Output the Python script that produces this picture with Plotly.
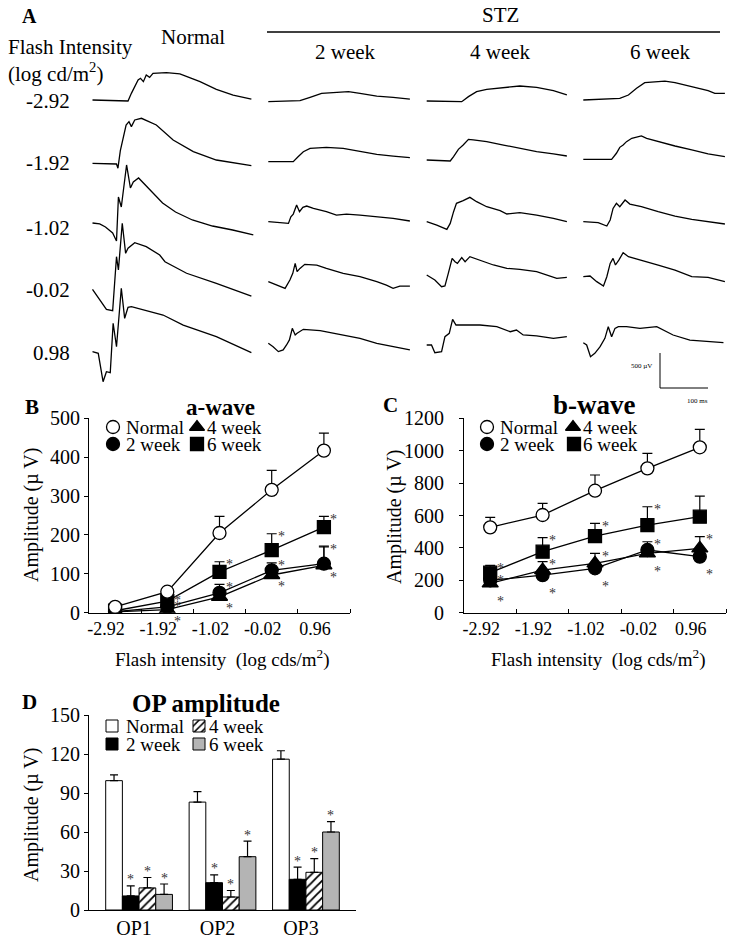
import plotly.graph_objects as go

W, H = 735, 944
FONT = "Liberation Serif"

# ---------------- Panel A: ERG traces (time in ms, amplitude in uV re. baseline) ----------------
INTENSITY_A = ["-2.92", "-1.92", "-1.02", "-0.02", "0.98"]
GROUPS_A = ["Normal", "2 week", "4 week", "6 week"]

NORMAL_MS = [
    [0, 74, 81, 88, 95, 100, 106, 112, 119, 126, 154, 182, 224, 258, 293, 331],
    [0, 50, 53, 58, 70, 76, 81, 88, 102, 133, 168, 210, 258, 331],
    [0, 15, 27, 42, 50, 54, 60, 71, 79, 85, 96, 106, 125, 146, 173, 208, 250, 292, 335],
    [0, 29, 42, 50, 54, 62, 69, 74, 88, 112, 140, 151, 196, 258, 331],
    [0, 12, 22, 29, 37, 43, 50, 60, 67, 74, 81, 105, 147, 189, 258, 331],
]
NORMAL_UV = [
    [0, -14, 95, 190, 286, 310, 262, 357, 324, 381, 390, 372, 262, 153, 71, 14],
    [0, -10, -70, 180, 547, 595, 524, 619, 643, 547, 333, 166, 47, -34],
    [0, -14, -57, -143, -257, 372, 229, 829, 500, 586, 643, 572, 429, 286, 157, 43, -43, -100, -171],
    [0, -286, -306, 466, 276, 943, 514, 586, 666, 609, 490, 394, 229, 86, -96],
    [0, -23, -429, -286, -300, 406, 71, 906, 477, 634, 643, 596, 524, 381, 214, -14],
]
WK2_MS = [
    [0, 66, 87, 111, 135, 167, 191, 226, 260, 295],
    [0, 52, 62, 73, 87, 121, 156, 191, 226, 260, 295],
    [0, 24, 42, 47, 52, 59, 65, 72, 80, 94, 121, 142, 163, 191, 226, 260, 295],
    [0, 17, 35, 45, 51, 56, 60, 66, 76, 101, 121, 156, 191, 226, 246, 260, 274, 295],
    [0, 10, 21, 31, 38, 44, 50, 56, 60, 65, 73, 108, 156, 191, 226, 260, 295],
]
WK2_UV = [
    [0, 14, 62, 119, 129, 143, 119, 81, 62, 38],
    [0, 0, 71, 143, 190, 205, 190, 143, 105, 81, 57],
    [0, -14, -24, 71, 109, 238, 143, 205, 224, 190, 143, 95, 109, 95, 71, 48, 10],
    [0, -48, -95, 24, 119, 262, 143, 190, 248, 238, 190, 119, 71, 0, -48, -95, -62, -62],
    [0, -48, -119, -95, -24, 48, 214, 119, 143, 167, 200, 181, 119, 71, 0, -48, -95],
]
WK4_MS = [
    [0, 73, 87, 104, 125, 160, 194, 229, 264, 292],
    [0, 49, 56, 66, 76, 87, 97, 125, 160, 194, 229, 264, 292],
    [0, 21, 42, 49, 56, 62, 76, 90, 104, 125, 153, 167, 194, 229, 264, 292],
    [0, 17, 31, 38, 45, 53, 59, 64, 73, 80, 90, 111, 139, 167, 194, 229, 250, 271, 292],
    [0, 10, 17, 31, 38, 47, 54, 61, 76, 111, 146, 174, 187, 201, 229, 264, 292],
]
WK4_UV = [
    [0, -10, 62, 133, 167, 195, 214, 195, 148, 86],
    [0, -14, 48, 152, 214, 295, 286, 262, 214, 167, 119, 86, 57],
    [0, -48, -110, -24, 143, 262, 300, 348, 286, 214, 157, 110, 129, 95, 48, 0],
    [0, -71, -167, -157, 24, 238, 190, 167, 248, 190, 262, 214, 143, 95, 81, 48, 0, -48, -33],
    [0, 0, -110, -95, 119, 167, 367, 286, 286, 286, 262, 190, 214, 143, 129, 95, 119],
]
WK6_MS = [
    [0, 76, 94, 111, 128, 149, 170, 191, 226, 260, 274, 295],
    [0, 59, 69, 76, 83, 90, 101, 121, 132, 156, 191, 226, 260, 295],
    [0, 31, 49, 56, 62, 69, 76, 87, 97, 121, 156, 191, 226, 260, 295],
    [0, 14, 28, 42, 49, 56, 62, 67, 74, 83, 94, 121, 156, 191, 226, 260, 295],
    [0, 7, 15, 24, 35, 45, 52, 59, 66, 73, 90, 118, 153, 174, 187, 222, 257, 292],
]
WK6_UV = [
    [0, 24, 71, 167, 248, 262, 271, 248, 190, 133, 95, 95],
    [0, 0, 86, 171, 205, 252, 300, 333, 300, 252, 190, 133, 76, 38],
    [0, -14, -62, 24, 190, 262, 214, 310, 252, 214, 143, 81, 33, 0, -33],
    [0, 10, -71, -133, 0, 190, 262, 167, 238, 343, 286, 238, 167, 95, 0, -10, -71],
    [0, -33, -200, -152, -57, 62, 229, 86, 205, 229, 229, 205, 229, 157, 110, 38, 14, 0],
]
SCALE_UV = 500
SCALE_MS = 100

# ---------------- Panels B, C: a-wave / b-wave amplitude (uV), mean and upper SEM ----------------
INTENSITY_BC = ["-2.92", "-1.92", "-1.02", "-0.02", "0.96"]
AWAVE_NORMAL = [15, 54, 205, 316, 417]
AWAVE_NORMAL_ERR = [5, 8, 43, 50, 45]
AWAVE_2WK = [3, 15, 51, 109, 126]
AWAVE_2WK_ERR = [2, 8, 22, 19, 45]
AWAVE_4WK = [2, 8, 41, 97, 122]
AWAVE_4WK_ERR = [2, 5, 8, 10, 47]
AWAVE_6WK = [5, 30, 105, 161, 220]
AWAVE_6WK_ERR = [3, 10, 26, 42, 28]

BWAVE_NORMAL = [527, 603, 753, 891, 1021]
BWAVE_NORMAL_ERR = [61, 72, 97, 93, 111]
BWAVE_2WK = [200, 232, 274, 387, 346]
BWAVE_2WK_ERR = [20, 25, 25, 51, 30]
BWAVE_4WK = [181, 263, 305, 366, 397]
BWAVE_4WK_ERR = [20, 52, 61, 30, 72]
BWAVE_6WK = [247, 377, 473, 541, 593]
BWAVE_6WK_ERR = [45, 86, 78, 113, 127]

# ---------------- Panel D: OP amplitude (uV) ----------------
OP_LABELS = ["OP1", "OP2", "OP3"]
OP_NORMAL = [99.5, 83, 116]
OP_NORMAL_ERR = [4.5, 8, 6.5]
OP_2WK = [10.8, 21, 23.6]
OP_2WK_ERR = [7.7, 6, 9.4]
OP_4WK = [17, 10, 29]
OP_4WK_ERR = [8, 5, 10.5]
OP_6WK = [12, 41, 60]
OP_6WK_ERR = [8, 12, 8]

# ---------------- layout helpers ----------------
def P(px, py):
    return px / W, 1 - py / H

annotations = []
def text(t, px, py, size=19, bold=False, xanchor="center", yanchor="middle", angle=0, color="black"):
    x, y = P(px, py)
    if bold:
        t = "<b>" + t + "</b>"
    annotations.append(dict(text=t, x=x, y=y, xref="paper", yref="paper", showarrow=False,
                            xanchor=xanchor, yanchor=yanchor, textangle=angle,
                            font=dict(family=FONT, size=size, color=color)))

fig = go.Figure()

# ---- Panel A ----
MS_PER_PX = 100 / 48
UV_PER_PX = 500 / 35
A_BOTTOM = 420
COL_X0 = [92.5, 268.3, 426.7, 583.3]
ROW_Y0 = [[100, 163.3, 223, 289.3, 351.7],
          [101.7, 161.7, 221.7, 281.7, 343.3],
          [101, 160, 221.7, 275, 345],
          [100, 159.3, 221.7, 276.7, 342.7]]
cols = [(NORMAL_MS, NORMAL_UV), (WK2_MS, WK2_UV), (WK4_MS, WK4_UV), (WK6_MS, WK6_UV)]
for c, (ms, uv) in enumerate(cols):
    for r in range(5):
        x0 = COL_X0[c] * MS_PER_PX
        y0 = -ROW_Y0[c][r] * UV_PER_PX
        fig.add_trace(go.Scatter(x=[x0 + t for t in ms[r]], y=[y0 + a for a in uv[r]],
                                 mode="lines", line=dict(color="black", width=1.3),
                                 xaxis="x", yaxis="y", showlegend=False, hoverinfo="skip"))
# scale bar
cx, cy = 660 * MS_PER_PX, -388 * UV_PER_PX
fig.add_trace(go.Scatter(x=[cx, cx, cx + SCALE_MS], y=[cy + SCALE_UV, cy, cy], mode="lines",
                         line=dict(color="black", width=1), xaxis="x", yaxis="y",
                         showlegend=False, hoverinfo="skip"))

text("A", 30, 16, size=20, bold=True)
text("Flash Intensity", 6, 47, size=21, xanchor="left")
text("(log cd/m<sup>2</sup>)", 6, 73, size=21, xanchor="left")
text("Normal", 193, 37, size=21)
text("STZ", 500, 15, size=21)
text("2 week", 345, 52, size=21)
text("4 week", 500, 52, size=21)
text("6 week", 660, 52, size=21)
for lab, py in zip(INTENSITY_A, [101, 163, 228, 290, 353]):
    text(lab, 72, py, size=21, xanchor="right")
text("500 µV", 654, 366, size=7, xanchor="right")
text("100 ms", 697, 401, size=7)

# ---- Panels B, C ----
def line_panel(xa, ya, series, stars, below_shift):
    xs = [i + 0.5 for i in range(5)]
    for vals, errs, sym, fill in series:
        fig.add_trace(go.Scatter(
            x=xs, y=vals, mode="lines+markers", xaxis=xa, yaxis=ya,
            line=dict(color="black", width=1.3),
            marker=dict(symbol=sym, size=13 if sym != "triangle-up" else 14, color=fill,
                        line=dict(color="black", width=1.3)),
            error_y=dict(type="data", array=errs, arrayminus=[0] * 5, symmetric=False,
                         color="black", thickness=1.2, width=5),
            showlegend=False, hoverinfo="skip"))
    for vals, errs, idx, mode in stars:
        if mode == "top":
            y, ys = vals[idx] + errs[idx], -3
        else:
            y, ys = vals[idx], below_shift
        annotations.append(dict(text="*", x=idx + 0.5, y=y, xref=xa, yref=ya, showarrow=False,
                                xshift=10, yshift=ys, xanchor="center", yanchor="middle",
                                font=dict(family=FONT, size=14, color="#333")))

line_panel("x2", "y2",
           [(AWAVE_4WK, AWAVE_4WK_ERR, "triangle-up", "black"),
            (AWAVE_2WK, AWAVE_2WK_ERR, "circle", "black"),
            (AWAVE_6WK, AWAVE_6WK_ERR, "square", "black"),
            (AWAVE_NORMAL, AWAVE_NORMAL_ERR, "circle", "white")],
           [(AWAVE_6WK, AWAVE_6WK_ERR, i, "top") for i in range(1, 5)] +
           [(AWAVE_2WK, AWAVE_2WK_ERR, i, "top") for i in range(1, 5)] +
           [(AWAVE_4WK, AWAVE_4WK_ERR, i, "below") for i in range(1, 5)], -12)

line_panel("x3", "y3",
           [(BWAVE_4WK, BWAVE_4WK_ERR, "triangle-up", "black"),
            (BWAVE_2WK, BWAVE_2WK_ERR, "circle", "black"),
            (BWAVE_6WK, BWAVE_6WK_ERR, "square", "black"),
            (BWAVE_NORMAL, BWAVE_NORMAL_ERR, "circle", "white")],
           [(BWAVE_6WK, BWAVE_6WK_ERR, i, "top") for i in range(0, 4)] +
           [(BWAVE_4WK, BWAVE_4WK_ERR, i, m) for i, m in zip(range(5), ["below", "top", "top", "below", "top"])] +
           [(BWAVE_2WK, BWAVE_2WK_ERR, i, m) for i, m in zip(range(5), ["top", "below", "below", "top", "below"])],
           -18)

text("B", 32, 407, size=21, bold=True)
text("a-wave", 220, 407, size=23, bold=True)
text("C", 390, 405, size=21, bold=True)
text("b-wave", 594, 405, size=27, bold=True)
text("Amplitude (µ V)", 31, 515, angle=-90, size=20)
text("Amplitude (µ V)", 394, 517, angle=-90, size=20)
text("Flash intensity  (log cds/m<sup>2</sup>)", 222, 658, size=19)
text("Flash intensity  (log cds/m<sup>2</sup>)", 598, 658, size=19)

# ---- Panel D ----
op_series = [("Normal", OP_NORMAL, OP_NORMAL_ERR, "white", ""),
             ("2 week", OP_2WK, OP_2WK_ERR, "black", ""),
             ("4 week", OP_4WK, OP_4WK_ERR, "white", "/"),
             ("6 week", OP_6WK, OP_6WK_ERR, "#b4b4b4", "")]
for name, vals, errs, color, pat in op_series:
    fig.add_trace(go.Bar(
        x=[0, 1, 2], y=vals, xaxis="x4", yaxis="y4", name=name,
        marker=dict(color=color, line=dict(color="black", width=1),
                    pattern=dict(shape=pat, fgcolor="black", bgcolor="white", size=6, solidity=0.3)),
        error_y=dict(type="data", array=errs, arrayminus=[0] * 3, symmetric=False,
                     color="black", thickness=1.2, width=4),
        showlegend=False, hoverinfo="skip"))
offs = [-1.5, -0.5, 0.5, 1.5]
for k, (name, vals, errs, color, pat) in enumerate(op_series):
    if k == 0:
        continue
    for i in range(3):
        annotations.append(dict(text="*", x=i + offs[k] * 0.2, y=vals[i] + errs[i], xref="x4", yref="y4",
                                showarrow=False, yshift=6, xanchor="center", yanchor="middle",
                                font=dict(family=FONT, size=14, color="#333")))
text("D", 30, 702, size=21, bold=True)
text("OP amplitude", 206, 703, size=25, bold=True)
text("Amplitude (µ V)", 31, 815, angle=-90, size=20)

# ---- legends (drawn manually on overlay pixel axes) ----
leg_marks = [(113, 427, "circle", "white"), (197, 427, "triangle-up", "black"),
             (113, 444, "circle", "black"), (197, 444, "square", "black"),
             (487, 427, "circle", "white"), (573, 427, "triangle-up", "black"),
             (487, 444, "circle", "black"), (574, 444, "square", "black")]
fig.add_trace(go.Scatter(x=[m[0] for m in leg_marks], y=[m[1] for m in leg_marks], mode="markers",
                         marker=dict(symbol=[m[2] for m in leg_marks], color=[m[3] for m in leg_marks],
                                     size=13, line=dict(color="black", width=1.3)),
                         xaxis="x5", yaxis="y5", showlegend=False, hoverinfo="skip"))
for bx in (124, 498):
    text("Normal", bx, 427, xanchor="left")
    text("2 week", bx, 444, xanchor="left")
for bx in (205, 581):
    text("4 week", bx, 427, xanchor="left")
    text("6 week", bx, 444, xanchor="left")
fig.add_trace(go.Bar(x=[112, 112, 199], y=[-12] * 3, base=[732, 750, 750], width=[12] * 3,
                     marker=dict(color=["white", "black", "#b4b4b4"], line=dict(color="black", width=1)),
                     xaxis="x5", yaxis="y5", showlegend=False, hoverinfo="skip"))
fig.add_trace(go.Bar(x=[199], y=[-12], base=[732], width=[12],
                     marker=dict(color="white", line=dict(color="black", width=1),
                                 pattern=dict(shape="/", fgcolor="black", bgcolor="white", size=5, solidity=0.3)),
                     xaxis="x6", yaxis="y6", showlegend=False, hoverinfo="skip"))
text("Normal", 124, 726, xanchor="left")
text("2 week", 124, 744, xanchor="left")
text("4 week", 207, 726, xanchor="left")
text("6 week", 207, 744, xanchor="left")

# ---- axes ----
tickfont = dict(family=FONT, size=20, color="black")
def yaxis_common(domain, rng, dtick, anchor, standoff=None):
    d = dict(domain=domain, range=rng, dtick=dtick, anchor=anchor, showline=True, linecolor="black",
             linewidth=1, ticks="outside", ticklen=4, tickcolor="black", showgrid=False, zeroline=False,
             tickfont=tickfont, fixedrange=True, automargin=False)
    if standoff is not None:
        d["ticklabelstandoff"] = standoff
    return d

def xaxis_line(domain, anchor):
    return dict(domain=domain, range=[0, 5], anchor=anchor, tickmode="array",
                tickvals=[i + 0.5 for i in range(5)], automargin=False,
                ticktext=INTENSITY_BC, ticks="", showline=True, linecolor="black", linewidth=1,
                showgrid=False, zeroline=False, tickfont=dict(family=FONT, size=18, color="black"),
                ticklabelshift=-9, fixedrange=True,
                minor=dict(tickmode="array", tickvals=[1, 2, 3, 4, 5], ticks="inside", ticklen=4,
                           tickcolor="black", tickwidth=1, showgrid=False))

yB = [1 - 612.7 / H, 1 - 418.3 / H]
hidden = dict(visible=False, fixedrange=True, automargin=False, showgrid=False, zeroline=False)
fig.update_layout(
    template="none",
    width=W, height=H, margin=dict(l=0, r=0, t=0, b=0, autoexpand=False),
    paper_bgcolor="white", plot_bgcolor="rgba(0,0,0,0)",
    barmode="group", bargap=0.2, bargroupgap=0,
    xaxis=dict(domain=[0, 1], range=[0, W * MS_PER_PX], anchor="y", **hidden),
    yaxis=dict(domain=[1 - A_BOTTOM / H, 1], range=[-A_BOTTOM * UV_PER_PX, 0], anchor="x", **hidden),
    xaxis2=xaxis_line([89 / W, 350 / W], "y2"),
    yaxis2=yaxis_common(yB, [0, 500], 100, "x2"),
    xaxis3=xaxis_line([464 / W, 726 / W], "y3"),
    yaxis3=yaxis_common(yB, [0, 1200], 200, "x3", standoff=11),
    xaxis4=dict(domain=[89 / W, 356 / W], range=[-0.6, 2.6], anchor="y4", tickmode="array", tickvals=[0, 1, 2],
                ticktext=OP_LABELS, ticks="", showline=True, linecolor="black", linewidth=1,
                showgrid=False, zeroline=False, tickfont=tickfont, automargin=False, fixedrange=True,
                ticklabelshift=-5),
    yaxis4=yaxis_common([1 - 910 / H, 1 - 715 / H], [0, 150], 30, "x4"),
    xaxis5=dict(domain=[0, 1], range=[0, W], anchor="y5", **hidden),
    yaxis5=dict(domain=[0, 1], range=[H, 0], anchor="x5", **hidden),
    xaxis6=dict(domain=[0, 1], range=[0, W], anchor="y6", **hidden),
    yaxis6=dict(domain=[0, 1], range=[H, 0], anchor="x6", **hidden),
    annotations=annotations,
    shapes=[dict(type="line", xref="paper", yref="paper", x0=267 / W, x1=720 / W,
                 y0=1 - 32 / H, y1=1 - 32 / H, line=dict(color="black", width=1.3))],
    showlegend=False,
)
fig.write_html("out.html", config={"displayModeBar": False},
               post_script="document.body.style.margin='0px';")
